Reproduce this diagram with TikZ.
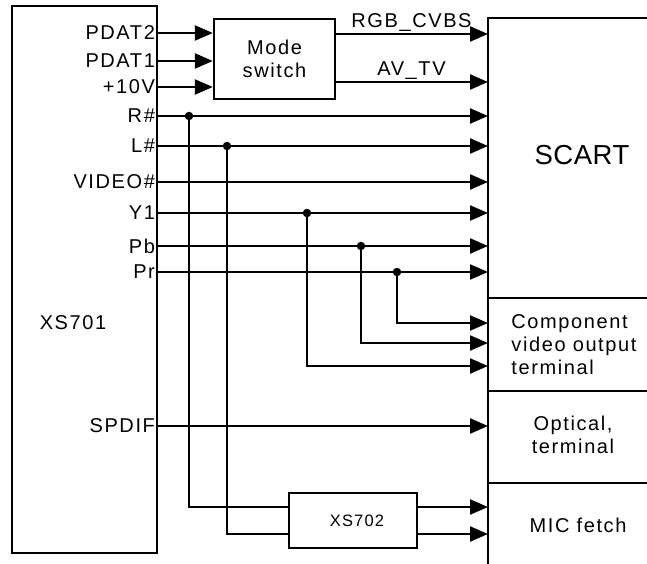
\documentclass[tikz,border=0pt]{standalone}
\usepackage{fontspec}
\setmainfont{Liberation Sans}[LetterSpace=8]
\newfontfamily\bigfont{Liberation Sans}[LetterSpace=2]
\newfontfamily\smallfont{Liberation Sans}[LetterSpace=7]
\usetikzlibrary{arrows.meta}

\tikzset{
  sig/.style={-{Triangle[length=18pt,width=15pt]}},
  blk/.style={draw, line width=2.4pt, inner sep=0pt},
  pin/.style={anchor=east, inner sep=1pt},
  dot/.style={circle, fill, inner sep=0pt, minimum size=8.5pt},
}

\begin{document}
\begin{tikzpicture}[x=1pt, y=-1pt, line width=2.2pt, font=\fontsize{20}{23}\selectfont]
  \useasboundingbox (0,0) rectangle (647,564);
  % blocks
  \node[blk, minimum width=145pt, minimum height=547pt] (xs701) at (84.5,279.5) {};
  \node (l701) at (73,323) {XS701};
  \node[blk, minimum width=121pt, minimum height=80pt, align=center] (mode) at (274.5,59) {Mode\\switch};
  \node[blk, minimum width=128pt, minimum height=55pt, font=\smallfont\fontsize{16.5}{19}\selectfont] (xs702) at (353,520.5) {\hspace{8pt}XS702};
  % SCART column
  \coordinate (sctop) at (488,18);
  \coordinate (scbot) at (488,564);
  \coordinate (scend) at (647,18);
  \draw (scend) -- (sctop) -- (scbot);
  \foreach \y in {298,391,483}
    \draw (488,\y) -- (647,\y);
  \node[font=\bigfont\fontsize{27.5}{30}\selectfont] (scart) at (582,155) {SCART};
  \node[anchor=west, align=left] (comp) at (507,344.5) {Component\\video output\\terminal};
  \node[align=center] (optical) at (573,435) {Optical,\\terminal};
  \node (mic) at (578,525) {MIC fetch};
  % pins of XS701
  \foreach \n/\y/\t in {pdat2/33/PDAT2, pdat1/61/PDAT1, pv/87/+10V, r/116/R\#, l/146/L\#,
      video/182/VIDEO\#, y1/213/Y1, pb/246/Pb, pr/272/Pr, spdif/426/SPDIF} {
    \coordinate (\n) at (157,\y);
    \node[pin] (l\n) at (\n) {\t};
  }
  \foreach \n in {pdat2,pdat1,pv}
    \draw[sig] (\n) -- (\n -| mode.west);
  \foreach \n in {r,l,video,y1,pb,pr,spdif}
    \draw[sig] (\n) -- (\n -| sctop);
  % mode switch outputs
  \coordinate (rgb) at (335,34);
  \coordinate (avtv) at (335,82);
  \draw[sig] (rgb) -- (rgb -| sctop) node[midway, above, inner sep=1pt] (lrgb) {RGB\_CVBS};
  \draw[sig] (avtv) -- (avtv -| sctop) node[midway, above, inner sep=1pt] (lavtv) {AV\_TV};
  % branches
  \node[dot] (jr) at (189,116) {};
  \node[dot] (jl) at (227,146) {};
  \node[dot] (jy) at (307,213) {};
  \node[dot] (jb) at (361,246) {};
  \node[dot] (jp) at (397,272) {};
  \coordinate (in1) at (289,507);
  \coordinate (in2) at (289,534);
  \coordinate (out1) at (417,507);
  \coordinate (out2) at (417,534);
  \draw (jr.center) |- (in1);
  \draw (jl.center) |- (in2);
  \draw[sig] (jp.center) |- (sctop |- 0,323);
  \draw[sig] (jb.center) |- (sctop |- 0,343);
  \draw[sig] (jy.center) |- (sctop |- 0,366);
  \draw[sig] (out1) -- (out1 -| sctop);
  \draw[sig] (out2) -- (out2 -| sctop);
\end{tikzpicture}
\end{document}
